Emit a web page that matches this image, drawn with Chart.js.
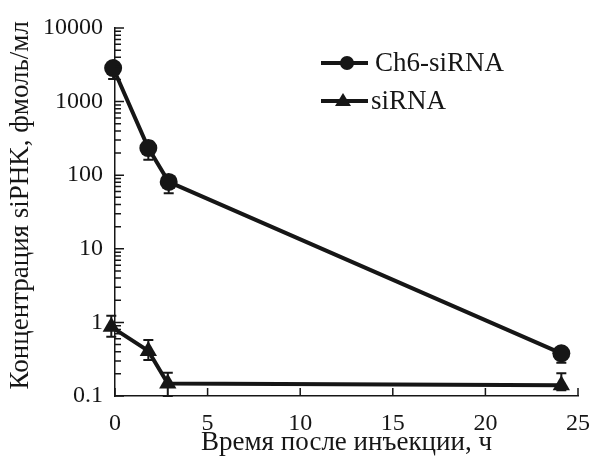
<!DOCTYPE html>
<html><head><meta charset="utf-8">
<script src="https://cdn.jsdelivr.net/npm/chart.js@4/dist/chart.umd.min.js"></script>
<style>html,body{margin:0;padding:0;background:#fff}</style>
</head><body>
<canvas id="c" width="593" height="463"></canvas>
<script>
// ---- data ----
const seriesNames = ['Ch6-siRNA', 'siRNA'];
const timeCh6 = [-0.1, 1.8, 2.9, 24.1];
const ch6 = [2860, 234, 81, 0.38];
const ch6Low = [2030, 162, 57, 0.283];
const ch6High = [3300, 290, 95, 0.45];
const timeSi = [-0.2, 1.8, 2.85, 24.1];
const si = [0.87, 0.41, 0.148, 0.14];
const siLow = [0.64, 0.308, 0.1, 0.12];
const siHigh = [1.23, 0.577, 0.207, 0.203];
const yTicks = [0.1, 1, 10, 100, 1000, 10000];
const yTickLabels = ['0.1', '1', '10', '100', '1000', '10000'];
const xTicks = [0, 5, 10, 15, 20, 25];
const xTitle = 'Время после инъекции, ч';
const yTitle = 'Концентрация siPHK, фмоль/мл';

const INK = '#161616';
const FONT = "'Liberation Serif', 'Times New Roman', serif";

const errLow = [ch6Low, siLow];
const errHigh = [ch6High, siHigh];

const errorBars = {
  id: 'errorBars',
  beforeDatasetsDraw(chart) {
    const ctx = chart.ctx;
    const ys = chart.scales.y;
    ctx.save();
    ctx.strokeStyle = INK;
    ctx.lineWidth = 2;
    chart.data.datasets.forEach((ds, di) => {
      const meta = chart.getDatasetMeta(di);
      meta.data.forEach((pt, i) => {
        const yl = ys.getPixelForValue(errLow[di][i]);
        const yh = ys.getPixelForValue(errHigh[di][i]);
        const x = pt.x;
        ctx.beginPath();
        ctx.moveTo(x, yl); ctx.lineTo(x, yh);
        ctx.moveTo(x - 5, yl); ctx.lineTo(x + 5, yl);
        ctx.moveTo(x - 5, yh); ctx.lineTo(x + 5, yh);
        ctx.stroke();
      });
    });
    ctx.restore();
  }
};

const axisTicks = {
  id: 'axisTicks',
  afterDraw(chart) {
    const ctx = chart.ctx;
    const xs = chart.scales.x, ys = chart.scales.y;
    const a = chart.chartArea;
    ctx.save();
    ctx.strokeStyle = INK;
    ctx.lineWidth = 1.5;
    ctx.beginPath();
    for (let d = 0; d < yTicks.length; d++) {
      const base = yTicks[d];
      const py = ys.getPixelForValue(base);
      ctx.moveTo(a.left, py); ctx.lineTo(a.left + 9, py);
      if (d < yTicks.length - 1) {
        for (let m = 2; m <= 9; m++) {
          const p = ys.getPixelForValue(base * m);
          ctx.moveTo(a.left, p); ctx.lineTo(a.left + 6, p);
        }
      }
    }
    xTicks.forEach(v => {
      const px = xs.getPixelForValue(v);
      ctx.moveTo(px, a.bottom); ctx.lineTo(px, a.bottom - 8);
    });
    ctx.stroke();
    ctx.restore();

    // legend
    ctx.save();
    ctx.font = "27px " + FONT;
    ctx.fillStyle = INK;
    ctx.textBaseline = 'middle';
    const rows = [{y: 63, ds: 0, mx: 347, tx: 375}, {y: 101, ds: 1, mx: 343, tx: 371}];
    rows.forEach(r => {
      const ds = chart.data.datasets[r.ds];
      ctx.strokeStyle = INK; ctx.lineWidth = 4;
      ctx.beginPath(); ctx.moveTo(321, r.y); ctx.lineTo(368, r.y); ctx.stroke();
      ctx.beginPath();
      if (ds.pointStyle === 'circle') {
        ctx.arc(r.mx, r.y, 7, 0, Math.PI * 2);
      } else {
        ctx.moveTo(r.mx, r.y - 8); ctx.lineTo(r.mx + 8, r.y + 5); ctx.lineTo(r.mx - 8, r.y + 5); ctx.closePath();
      }
      ctx.fill();
      ctx.fillText(ds.label, r.tx, r.y + 1);
    });
    ctx.restore();
  }
};

function build() {
  new Chart(document.getElementById('c'), {
    type: 'scatter',
    data: {
      datasets: [
        {
          label: seriesNames[0],
          data: timeCh6.map((t, i) => ({x: t, y: ch6[i]})),
          showLine: true, borderColor: INK, backgroundColor: INK, borderWidth: 4,
          pointStyle: 'circle', pointRadius: 9, pointBorderWidth: 0, clip: false
        },
        {
          label: seriesNames[1],
          data: timeSi.map((t, i) => ({x: t, y: si[i]})),
          showLine: true, borderColor: INK, backgroundColor: INK, borderWidth: 4,
          pointStyle: 'triangle', pointRadius: 10, pointBorderWidth: 0, clip: false
        }
      ]
    },
    options: {
      responsive: false,
      animation: false,
      events: [],
      layout: {padding: {top: 28, right: 15, left: 0, bottom: 0}},
      plugins: {legend: {display: false}, tooltip: {enabled: false}},
      scales: {
        x: {
          type: 'linear', min: 0, max: 25,
          afterBuildTicks(s) { s.ticks = xTicks.map(v => ({value: v})); },
          grid: {display: false, drawTicks: false},
          border: {display: true, color: INK, width: 1.5},
          ticks: {color: INK, font: {family: FONT, size: 24}, padding: 13},
          title: {display: true, text: xTitle, color: INK, font: {family: FONT, size: 27}, padding: {top: 0, bottom: 4}},
          afterFit(s) { s.height = 67; s.paddingLeft = 0; s.paddingRight = 0; }
        },
        y: {
          type: 'logarithmic', min: 0.1, max: 10000,
          afterBuildTicks(s) { s.ticks = yTicks.map(v => ({value: v})); },
          grid: {display: false, drawTicks: false},
          border: {display: true, color: INK, width: 1.5},
          ticks: {color: INK, font: {family: FONT, size: 24}, padding: 12,
            callback: (v) => { const i = yTicks.indexOf(v); return i >= 0 ? yTickLabels[i] : ''; }},
          title: {display: true, text: '\u00A0\u00A0' + yTitle, color: INK, font: {family: FONT, size: 27}, padding: {top: 5, bottom: 0}},
          afterFit(s) { s.width = 115; s.paddingTop = 0; s.paddingBottom = 0; }
        }
      }
    },
    plugins: [errorBars, axisTicks]
  });
}
document.fonts.load("24px 'Liberation Serif'", "Время 0123").then(build, build);
</script>
</body></html>
